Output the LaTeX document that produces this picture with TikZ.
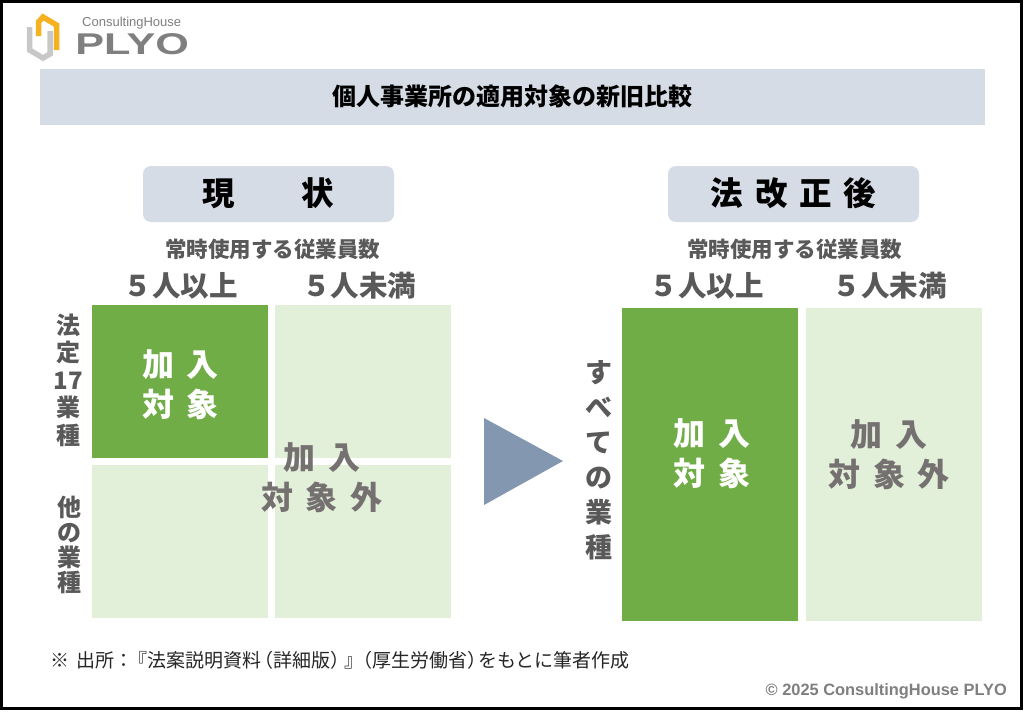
\documentclass[tikz,border=0pt]{standalone}
\usepackage{fontspec}
\setmainfont{Noto Sans CJK JP}
\newfontfamily\latinfont{Liberation Sans}
\definecolor{bandblue}{HTML}{D6DCE5}
\definecolor{arrowblue}{HTML}{8497B0}
\definecolor{darkgreen}{HTML}{70AD47}
\definecolor{palegreen}{HTML}{E2EFD9}
\definecolor{textgray}{HTML}{595959}
\definecolor{outgray}{HTML}{767171}
\definecolor{logogray}{HTML}{7F7F7F}
\definecolor{logolight}{HTML}{C8C8C8}
\definecolor{logoorange}{HTML}{F5B120}
\tikzset{
  headbox/.style={fill=bandblue,rounded corners=8pt},
  headtext/.style={font=\fontsize{32.5}{33}\selectfont\bfseries,text=black},
  subtext/.style={font=\fontsize{21.5}{22}\selectfont\bfseries,text=textgray},
  coltext/.style={font=\fontsize{28.5}{29}\selectfont\bfseries,text=textgray},
  sidetext/.style={font=\fontsize{24}{25}\selectfont\bfseries,text=textgray,align=center,inner sep=0pt},
  intext/.style={font=\fontsize{32}{40}\selectfont\bfseries,text=white,align=center,inner sep=0pt},
  outtext/.style={intext,text=outgray},
}
\begin{document}
\begin{tikzpicture}[x=1pt,y=-1pt]
  \useasboundingbox (0,0) rectangle (1024,712);
  \fill[white] (0,0) rectangle (1024,712);
  \draw[line width=3pt] (1.5,1.5) rectangle (1021.5,708.5);

  \draw[logolight,line width=5.5pt,line join=miter] (29.5,27) -- (29.5,50) -- (43,58) -- (50,54) -- (50,31);
  \draw[logoorange,line width=5.5pt,line join=miter] (38.5,36) -- (38.5,22) -- (43,17) -- (56.5,25) -- (56.5,50);
  \draw (82,23.5) node[text=logogray,inner sep=0pt,anchor=west] (brand) {\latinfont\fontsize{13}{14}\selectfont ConsultingHouse};
  \draw (75,44) node[text=logogray,inner sep=0pt,anchor=west,xscale=1.44] (logo) {\latinfont\fontsize{30}{30}\selectfont\bfseries PLYO};

  \fill[bandblue] (40,69) rectangle (985,125);
  \draw (512.5,96) node[font=\fontsize{24}{24}\selectfont\bfseries] (title) {個人事業所の適用対象の新旧比較};

  \fill[headbox] (143,166) rectangle (394,222);
  \fill[headbox] (668,166) rectangle (919,222);
  \draw (268.5,193) node[headtext] (nowhead) {現\hspace{67pt}状};
  \draw (793.5,193) node[headtext] (newhead) {法\hspace{12pt}改\hspace{12pt}正\hspace{12pt}後};

  \draw (272.5,249) node[subtext] (nowsub) {常時使用する従業員数};
  \draw (794.5,249) node[subtext] (newsub) {常時使用する従業員数};
  \draw (180.5,286) node[coltext] (nowover) {５人以上};
  \draw (359,286) node[coltext] (nowunder) {５人未満};
  \draw (706.5,286) node[coltext] (newover) {５人以上};
  \draw (889.5,286) node[coltext] (newunder) {５人未満};

  \fill[darkgreen] (92,305) rectangle (268,458);
  \fill[palegreen] (275,305) rectangle (451,458);
  \fill[palegreen] (92,465) rectangle (268,618);
  \fill[palegreen] (275,465) rectangle (451,618);
  \fill[darkgreen] (622,308) rectangle (798,621);
  \fill[palegreen] (806,308) rectangle (982,621);
  \fill[arrowblue] (484,418) -- (563,461) -- (484,505) -- cycle;

  \draw (68,380) node[sidetext,font=\fontsize{24}{27.5}\selectfont\bfseries] (sideseventeen) {法\\定\\17\\業\\種};
  \draw (69,545) node[sidetext] (sideother) {他\\の\\業\\種};
  \draw (599,460.5) node[sidetext,font=\fontsize{27}{35}\selectfont\bfseries] (sideall) {す\\べ\\て\\の\\業\\種};

  \draw (180.5,385) node[intext] (nowin) {加\hspace{13pt}入\\対\hspace{13pt}象};
  \draw (322,478) node[outtext] (nowout) {加\hspace{13pt}入\\対\hspace{13pt}象\hspace{13pt}外};
  \draw (712,453.5) node[intext] (newin) {加\hspace{13pt}入\\対\hspace{13pt}象};
  \draw (889,455) node[outtext] (newout) {加\hspace{13pt}入\\対\hspace{13pt}象\hspace{13pt}外};

  \draw (50,660) node[anchor=west,inner sep=0pt,font=\fontsize{19}{19}\selectfont,text=black!85] (source) {※\hspace{7pt}出所：\kern-5pt『法案説明資料\kern-7pt（詳細版）\kern-5pt』\kern-10pt（厚生労働省）\kern-8ptをもとに筆者作成};
  \draw (1007,691) node[anchor=east,inner sep=0pt,text=logogray] (copyright) {\latinfont\fontsize{16.4}{16.4}\selectfont\bfseries © 2025 ConsultingHouse PLYO};
\end{tikzpicture}
\end{document}
